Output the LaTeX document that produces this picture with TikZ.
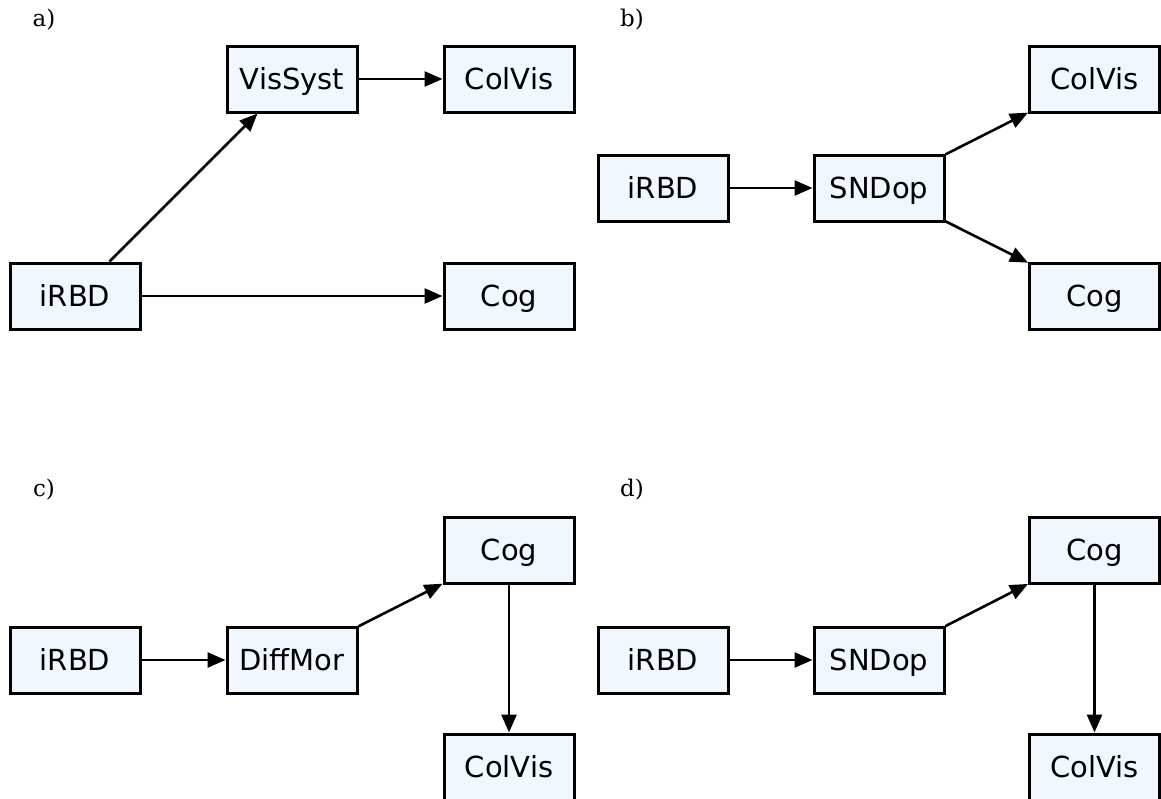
\documentclass[tikz,border=0pt]{standalone}
\usepackage{fontspec}
\setmainfont{DejaVu Serif}
\setsansfont{DejaVu Sans}
\usetikzlibrary{arrows.meta}
\definecolor{boxfill}{RGB}{240,247,255}
\definecolor{boxline}{RGB}{0,0,0}

\begin{document}
\begin{tikzpicture}[yscale=-1
                ,boxstyle/.style={draw=boxline,fill=boxfill,line width=1.5pt,minimum width=65pt,minimum height=33pt,inner sep=0pt,text height=10.6pt,text depth=0pt,font=\sffamily\fontsize{14.5}{17}\selectfont}
                ,edgestyle/.style={draw=boxline,line width=1.3pt,-{Triangle[length=9pt,width=7.5pt]}}
                ,panelstyle/.style={font=\fontsize{11.5}{14}\selectfont,color=black}
            ]
            \useasboundingbox (0pt,0pt) rectangle (580.5pt,399pt);
            % a)
            \node[panelstyle] (labA) at (22pt,10pt) {a)};
            \node[boxstyle] (visA) at (146pt,39.5pt) {VisSyst};
            \node[boxstyle] (colA) at (254.5pt,39.5pt) {ColVis};
            \node[boxstyle] (irbdA) at (37.5pt,148pt) {iRBD};
            \node[boxstyle] (cogA) at (254.5pt,148pt) {Cog};
            \draw[edgestyle] (irbdA) -- (visA);
            \draw[edgestyle] (visA) -- (colA);
            \draw[edgestyle] (irbdA) -- (cogA);
            % b)
            \node[panelstyle] (labB) at (316pt,10pt) {b)};
            \node[boxstyle] (irbdB) at (331.5pt,94pt) {iRBD};
            \node[boxstyle] (sndB) at (439.5pt,94pt) {SNDop};
            \node[boxstyle] (colB) at (547.25pt,39.5pt) {ColVis};
            \node[boxstyle] (cogB) at (547.25pt,148pt) {Cog};
            \draw[edgestyle] (irbdB) -- (sndB);
            \draw[edgestyle] (sndB) -- (colB);
            \draw[edgestyle] (sndB) -- (cogB);
            % c)
            \node[panelstyle] (labC) at (22pt,245pt) {c)};
            \node[boxstyle] (irbdC) at (37.5pt,330pt) {iRBD};
            \node[boxstyle] (diffC) at (146pt,330pt) {DiffMor};
            \node[boxstyle] (cogC) at (254.5pt,275pt) {Cog};
            \node[boxstyle] (colC) at (254.5pt,383.5pt) {ColVis};
            \draw[edgestyle] (irbdC) -- (diffC);
            \draw[edgestyle] (diffC) -- (cogC);
            \draw[edgestyle] (cogC) -- (colC);
            % d)
            \node[panelstyle] (labD) at (316pt,245pt) {d)};
            \node[boxstyle] (irbdD) at (331.5pt,330pt) {iRBD};
            \node[boxstyle] (sndD) at (439.5pt,330pt) {SNDop};
            \node[boxstyle] (cogD) at (547.25pt,275pt) {Cog};
            \node[boxstyle] (colD) at (547.25pt,383.5pt) {ColVis};
            \draw[edgestyle] (irbdD) -- (sndD);
            \draw[edgestyle] (sndD) -- (cogD);
            \draw[edgestyle] (cogD) -- (colD);
        \end{tikzpicture}
\end{document}
